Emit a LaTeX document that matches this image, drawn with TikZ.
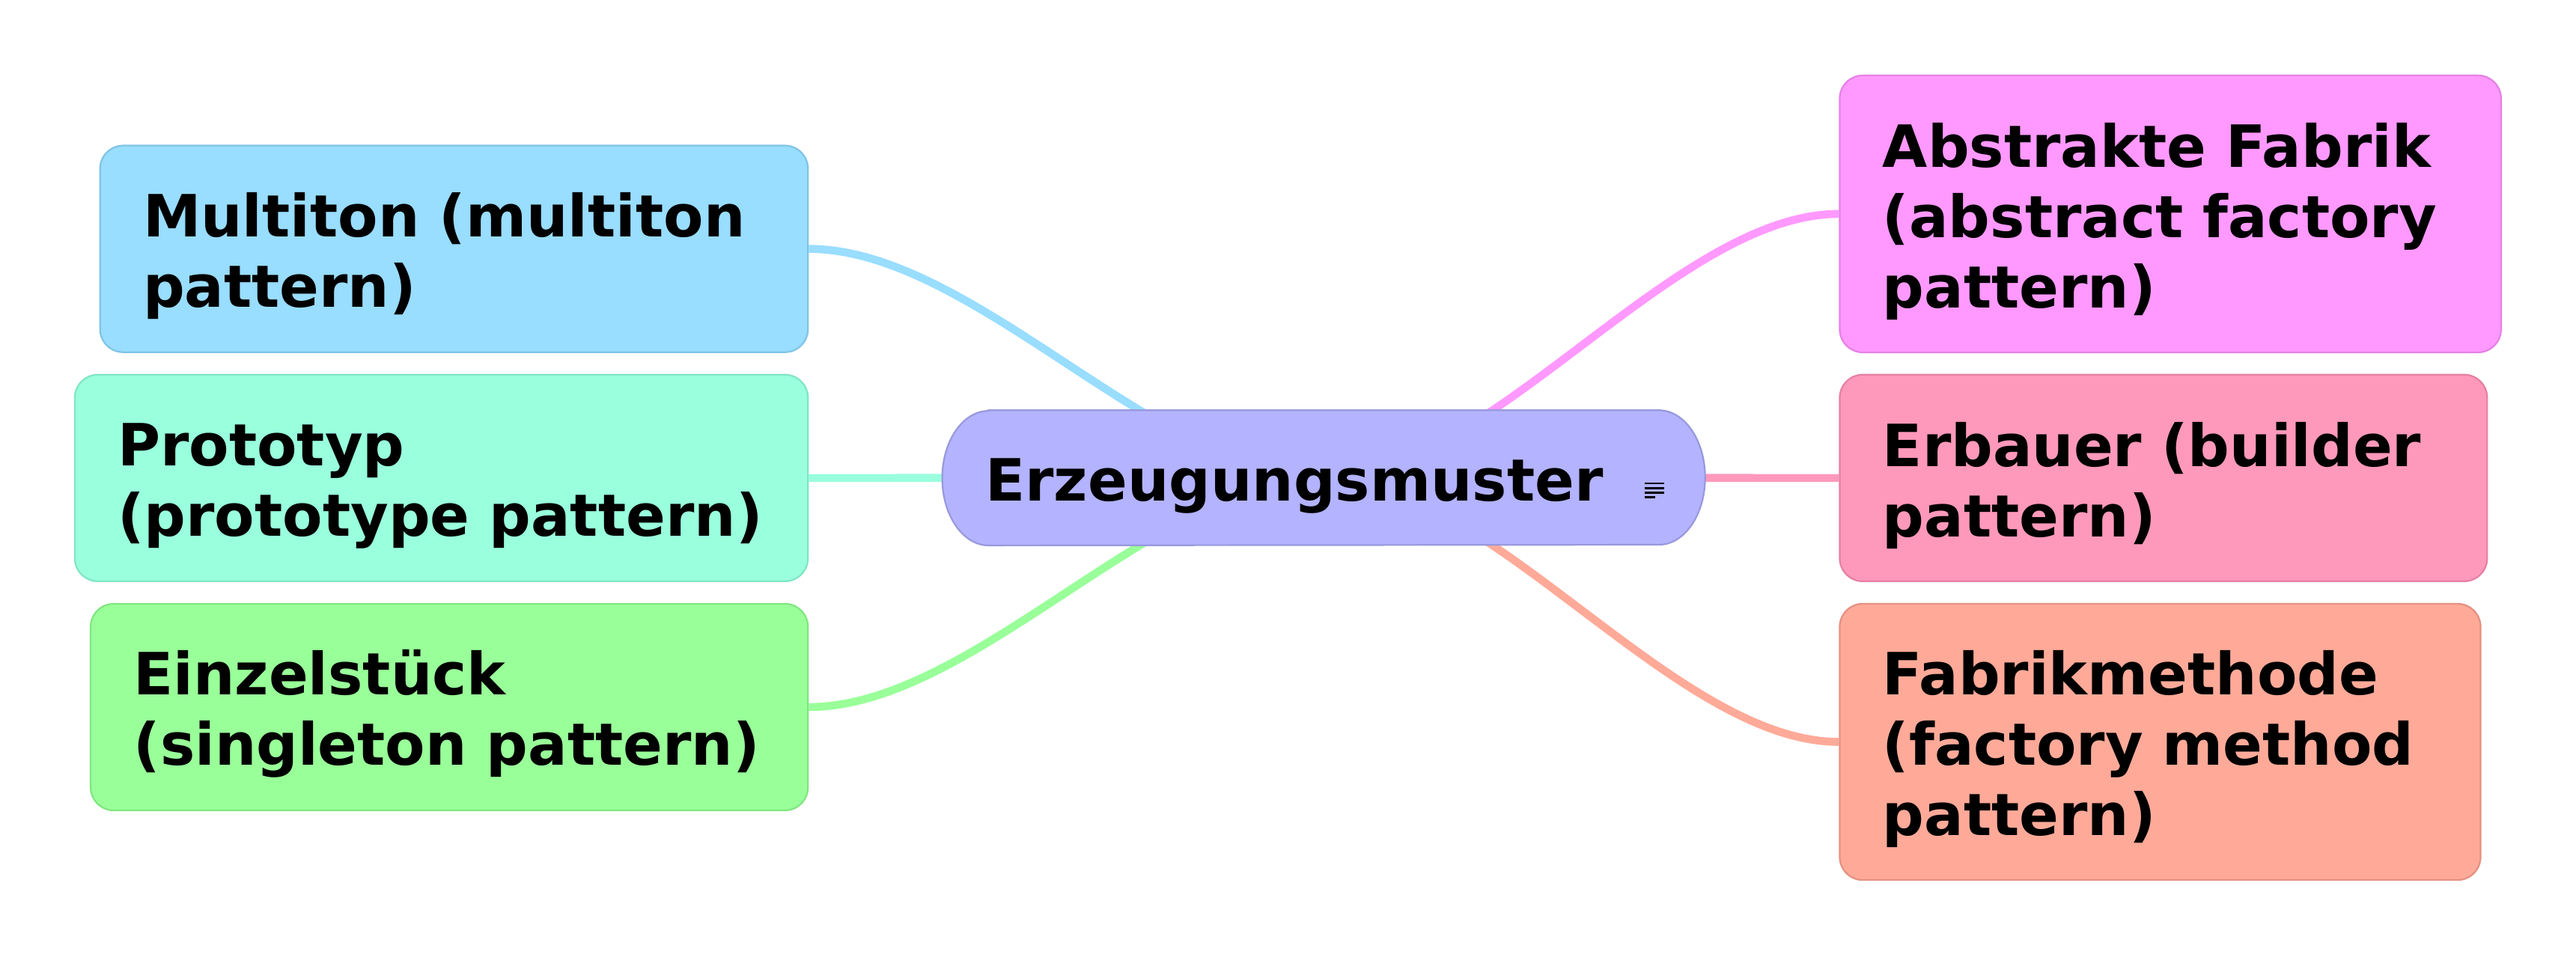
\documentclass[tikz,border=0pt]{standalone}
\usepackage{fontspec}
\setmainfont{DejaVu Sans}
\usetikzlibrary{backgrounds}
\definecolor{multi}{HTML}{99DDFF}
\definecolor{multiedge}{HTML}{80C4E6}
\definecolor{proto}{HTML}{99FFDD}
\definecolor{protoedge}{HTML}{80E6C4}
\definecolor{einzel}{HTML}{99FF99}
\definecolor{einzeledge}{HTML}{80E680}
\definecolor{abstr}{HTML}{FF99FF}
\definecolor{abstredge}{HTML}{E680E6}
\definecolor{erbauer}{HTML}{FF99BB}
\definecolor{erbaueredge}{HTML}{E680A2}
\definecolor{fabrik}{HTML}{FFAA99}
\definecolor{fabrikedge}{HTML}{E69080}
\definecolor{centre}{HTML}{B3B3FF}
\definecolor{centreedge}{HTML}{9999DD}
\newcommand{\topstrut}{\rule{0pt}{35.7pt}}
\newcommand{\botstrut}{\rule[-6.9pt]{0pt}{6.9pt}}

\begin{document}
\begin{tikzpicture}[x=1pt,y=-1pt]
    \tikzstyle{every node}=[font=\fontsize{35.3}{42.6}\selectfont\bfseries,inner ysep=0pt,inner xsep=26pt,align=left,execute at begin node=\topstrut,execute at end node=\botstrut]
    \tikzstyle{leaf}=[draw,line width=1pt,rounded corners=14pt]
    \tikzstyle{twig}=[line width=4.8pt]
    \useasboundingbox (0,0) rectangle (1560,579.4);
    \node[leaf,fill=multi,draw=multiedge,text width=376.7pt,minimum height=125.2pt,anchor=east] (multi) at (489.8,150.8) {Multiton~(multiton\\pattern)};
    \node[leaf,fill=proto,draw=protoedge,text width=392pt,minimum height=125.2pt,anchor=east] (proto) at (489.8,289.6) {Prototyp\\(prototype~pattern)};
    \node[leaf,fill=einzel,draw=einzeledge,text width=382.4pt,minimum height=125.2pt,anchor=east] (einzel) at (489.8,428.4) {Einzelstück\\(singleton~pattern)};
    \node[leaf,fill=abstr,draw=abstredge,text width=348.5pt,minimum height=167.8pt,anchor=west] (abstr) at (1113.6,129.6) {Abstrakte~Fabrik\\(abstract~factory\\pattern)};
    \node[leaf,fill=erbauer,draw=erbaueredge,text width=340.1pt,minimum height=125.2pt,anchor=west] (erbauer) at (1113.6,289.6) {Erbauer~(builder\\pattern)};
    \node[leaf,fill=fabrik,draw=fabrikedge,text width=336.1pt,minimum height=167.4pt,anchor=west] (fabrik) at (1113.6,449.5) {Fabrikmethode\\(factory~method\\pattern)};
    \node[text width=409.6pt,minimum height=81.5pt] (centre) at (801.6,289.5) {Erzeugungsmuster};
    \foreach \i/\l in {0/12.1,1/12.1,2/12.1,3/6.6}
        \draw[line width=1.2pt] ([shift={(-36.8,3.4+2.77*\i)}]centre.east) -- ++(\l,0);
    \begin{pgfonlayer}{background}
        \foreach \leaf/\side/\arm in {multi/east/100,proto/east/100,einzel/east/100,abstr/west/-100,erbauer/west/-100,fabrik/west/-100}
            \draw[twig,draw=\leaf] (\leaf.\side) .. controls +(\arm,0) and +(-\arm,0) .. (centre.center);
        \draw[line width=1pt,fill=centre,draw=centreedge] ([xshift=28pt]centre.north west) -- ([xshift=-28pt]centre.north east)
            arc[start angle=90,end angle=-90,x radius=28pt,y radius=40.75pt] -- ([xshift=28pt]centre.south west)
            arc[start angle=270,end angle=90,x radius=28pt,y radius=40.75pt] -- cycle;
    \end{pgfonlayer}
\end{tikzpicture}
\end{document}
